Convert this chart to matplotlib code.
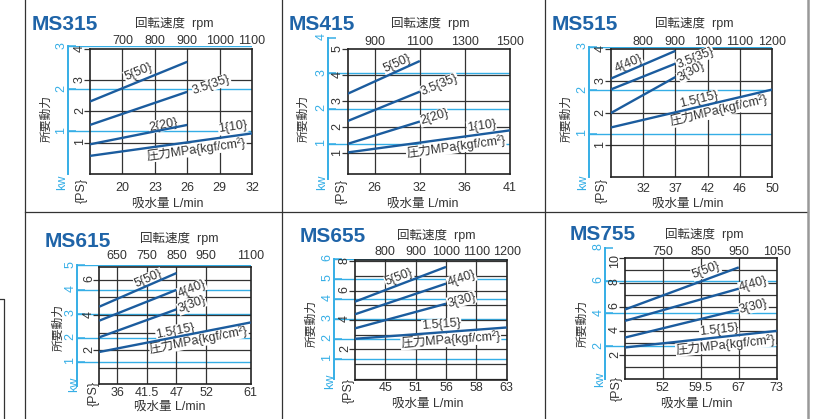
import numpy as np
import matplotlib
matplotlib.use('Agg')
import matplotlib.pyplot as plt
from matplotlib.lines import Line2D

plt.rcParams['font.family'] = ['Liberation Sans', 'Noto Sans CJK JP']

W, H = 818, 419
CURVE = '#1b5c9e'
KW_BLUE = '#35aee6'
TITLE_BLUE = '#1f64a8'
INK = '#333333'
PS_PER_KW = 1.36

# MS315
ms315_rpm = [700, 800, 900, 1000, 1100]
ms315_flow = ['20', '23', '26', '29', '32']
ms315_press = ['5{50}', '3.5{35}', '2{20}', '1{10}']
ms315_rpm0 = [600, 600, 600, 600]
ms315_rpm1 = [900, 900, 900, 1100]
ms315_ps0 = [2.32, 1.57, 0.95, 0.58]
ms315_ps1 = [3.59, 2.63, 1.57, 1.30]

# MS415
ms415_rpm = [900, 1100, 1300, 1500]
ms415_flow = ['26', '32', '36', '41']
ms415_press = ['5{50}', '3.5{35}', '2{20}', '1{10}']
ms415_rpm0 = [780, 780, 780, 780]
ms415_rpm1 = [1100, 1100, 1100, 1500]
ms415_ps0 = [3.29, 2.24, 1.36, 1.03]
ms415_ps1 = [4.55, 3.37, 2.22, 1.88]

# MS515
ms515_rpm = [800, 900, 1000, 1100, 1200]
ms515_flow = ['32', '37', '42', '46', '50']
ms515_press = ['4{40}', '3.5{35}', '3{30}', '1.5{15}']
ms515_rpm0 = [700, 700, 700, 700]
ms515_rpm1 = [900, 900, 900, 1200]
ms515_ps0 = [3.08, 2.74, 2.00, 1.55]
ms515_ps1 = [3.95, 3.55, 3.13, 2.74]

# MS615
ms615_rpm = [650, 750, 850, 950, 1100]
ms615_flow = ['36', '41.5', '47', '52', '61']
ms615_press = ['5{50}', '4{40}', '3{30}', '1.5{15}']
ms615_rpm0 = [590, 590, 590, 590]
ms615_rpm1 = [850, 850, 850, 1100]
ms615_ps0 = [4.47, 3.68, 2.74, 1.91]
ms615_ps1 = [6.37, 5.42, 4.32, 3.58]

# MS655
ms655_rpm = [800, 900, 1000, 1100, 1200]
ms655_flow = ['45', '51', '56', '58', '63']
ms655_press = ['5{50}', '4{40}', '3{30}', '1.5{15}']
ms655_rpm0 = [700, 700, 700, 700]
ms655_rpm1 = [1000, 1000, 1000, 1200]
ms655_ps0 = [5.25, 4.39, 3.43, 2.72]
ms655_ps1 = [7.62, 6.48, 5.11, 3.49]

# MS755
ms755_rpm = [750, 850, 950, 1050]
ms755_flow = ['52', '59.5', '67', '73']
ms755_press = ['5{50}', '4{40}', '3{30}', '1.5{15}']
ms755_rpm0 = [650, 650, 650, 650]
ms755_rpm1 = [950, 950, 950, 1050]
ms755_ps0 = [5.77, 4.83, 3.45, 2.63]
ms755_ps1 = [9.25, 7.49, 5.75, 4.00]

MPA_LABEL = '圧力MPa{kgf/cm²}'

panels = [
    dict(name='MS315', rpm=ms315_rpm, flow=ms315_flow, press=ms315_press,
         rpm0=ms315_rpm0, rpm1=ms315_rpm1, ps0=ms315_ps0, ps1=ms315_ps1,
         box=(90, 49, 252, 174), xlim=(600, 1100), ylim=(0, 4), blue_x=68,
         kw_ticks=[1, 2, 3], ps_ticks=[1, 2, 3, 4],
         lab_pos=[(749, 3.25), (975, 2.86), (826, 1.57), (1041, 1.49)], mpa_pos=(929, 0.79),
         title=(32, 30), rpm_title=(135, 26.7), xlabel=(168, 207), ylabel=(47, 118),
         kw=(62, 182), ps=(82, 190), top_pad=1.6, bot_pad=6.0),
    dict(name='MS415', rpm=ms415_rpm, flow=ms415_flow, press=ms415_press,
         rpm0=ms415_rpm0, rpm1=ms415_rpm1, ps0=ms415_ps0, ps1=ms415_ps1,
         box=(347.7, 49.3, 510, 174), xlim=(780, 1500), ylim=(0.2, 5.0), blue_x=328.3,
         kw_ticks=[1, 2, 3, 4], ps_ticks=[1, 2, 3, 4, 5],
         lab_pos=[(998, 4.46), (1187, 3.63), (1163, 2.38), (1373, 2.05)], mpa_pos=(1260, 1.26),
         title=(289, 30), rpm_title=(391, 26.7), xlabel=(423, 207), ylabel=(304, 118),
         kw=(322, 182), ps=(342, 191), top_pad=1.1, bot_pad=5.5),
    dict(name='MS515', rpm=ms515_rpm, flow=ms515_flow, press=ms515_press,
         rpm0=ms515_rpm0, rpm1=ms515_rpm1, ps0=ms515_ps0, ps1=ms515_ps1,
         box=(610.7, 49.3, 772.3, 177), xlim=(700, 1200), ylim=(0, 4), blue_x=589.3,
         kw_ticks=[1, 2, 3], ps_ticks=[1, 2, 3, 4],
         lab_pos=[(755, 3.56), (961, 3.72), (950, 3.30), (974, 2.42)], mpa_pos=(1033, 2.08),
         title=(552, 30), rpm_title=(655, 26.7), xlabel=(688, 207), ylabel=(567, 118),
         kw=(583, 182), ps=(602, 190), top_pad=1.1, bot_pad=4.1),
    dict(name='MS615', rpm=ms615_rpm, flow=ms615_flow, press=ms615_press,
         rpm0=ms615_rpm0, rpm1=ms615_rpm1, ps0=ms615_ps0, ps1=ms615_ps1,
         box=(99.3, 266.7, 250.7, 384), xlim=(590, 1100), ylim=(0.1, 6.73), blue_x=77.3,
         kw_ticks=[1, 2, 3, 4, 5], ps_ticks=[2, 4, 6],
         lab_pos=[(756, 6.04), (902, 5.47), (902, 4.57), (846, 3.09)], mpa_pos=(925, 2.58),
         title=(45, 246.7), rpm_title=(140, 242.3), xlabel=(170, 410), ylabel=(59, 327),
         kw=(74, 384), ps=(94, 393), top_pad=3.3, bot_pad=2.0),
    dict(name='MS655', rpm=ms655_rpm, flow=ms655_flow, press=ms655_press,
         rpm0=ms655_rpm0, rpm1=ms655_rpm1, ps0=ms655_ps0, ps1=ms655_ps1,
         box=(355, 260, 506.7, 380), xlim=(700, 1200), ylim=(-0.09, 8.09), blue_x=334.3,
         kw_ticks=[1, 2, 3, 4, 5, 6], ps_ticks=[2, 4, 6, 8],
         lab_pos=[(845, 6.89), (1051, 6.8), (1051, 5.36), (985, 3.66)], mpa_pos=(1016, 2.64),
         title=(300, 242.3), rpm_title=(397, 239), xlabel=(428, 407), ylabel=(312, 323),
         kw=(330, 381), ps=(349, 390), top_pad=1.6, bot_pad=1.7),
    dict(name='MS755', rpm=ms755_rpm, flow=ms755_flow, press=ms755_press,
         rpm0=ms755_rpm0, rpm1=ms755_rpm1, ps0=ms755_ps0, ps1=ms755_ps1,
         box=(625, 258.3, 776.7, 379.3), xlim=(650, 1050), ylim=(0, 10), blue_x=605.3,
         kw_ticks=[2, 4, 6, 8], ps_ticks=[2, 4, 6, 8, 10],
         lab_pos=[(864, 8.98), (988, 7.82), (988, 6.02), (898, 4.09)], mpa_pos=(915, 2.85),
         title=(570, 239.5), rpm_title=(665, 238.3), xlabel=(697, 407), ylabel=(583, 323),
         kw=(600, 379), ps=(617, 388), top_pad=0.4, bot_pad=2.2),
]


def rect(l, t, r, b):
    return [l / W, 1 - b / H, (r - l) / W, (b - t) / H]


def fx(x):
    return x / W


def fy(y):
    return 1 - y / H


fig = plt.figure(figsize=(W / 100, H / 100), dpi=100)
fig.patch.set_facecolor('white')

# page frame
frame = [
    ([25, 25], [0, 419]), ([282, 282], [0, 419]), ([545, 545], [0, 419]),
    ([25, 808], [212, 212]), ([0, 4, 4], [299, 299, 419]),
]
for xs, ys in frame:
    fig.add_artist(Line2D([fx(x) for x in xs], [fy(y) for y in ys], color='#333333', lw=0.9))
fig.add_artist(Line2D([fx(808), fx(808)], [fy(0), fy(419)], color='#999999', lw=1.8))


def draw_panel(p):
    L, T, R, B = p['box']
    lo, hi = p['ylim']
    scale = (B - T) / (hi - lo)
    y_kw0 = B + lo * scale
    kw_max = max(p['kw_ticks'])
    y_kwtop = y_kw0 - kw_max * PS_PER_KW * scale

    # kW axis (blue), underneath the main plot
    kax = fig.add_axes(rect(p['blue_x'], y_kwtop, R, y_kw0))
    kax.patch.set_alpha(0)
    kax.set_xlim(0, 1)
    kax.set_ylim(0, kw_max)
    for s in ['top', 'right', 'bottom']:
        kax.spines[s].set_visible(False)
    kax.spines['left'].set_color(KW_BLUE)
    kax.spines['left'].set_linewidth(1.4)
    kax.set_xticks([])
    kax.set_yticks(p['kw_ticks'])
    kax.tick_params(axis='y', direction='in', length=6, width=1.1, color=KW_BLUE,
                    labelcolor=KW_BLUE, labelrotation=90, pad=0.6, labelsize=9)
    for k in p['kw_ticks']:
        if k * PS_PER_KW <= hi + 0.1:
            kax.axhline(k, color=KW_BLUE, lw=1.0)

    # main PS axes
    ax = fig.add_axes(rect(L, T, R, B))
    ax.patch.set_alpha(0)
    ax.set_xlim(p['xlim'])
    ax.set_ylim(p['ylim'])
    for s in ax.spines.values():
        s.set_linewidth(1.2)
        s.set_color('#222222')
    for v in p['rpm']:
        if p['xlim'][0] < v < p['xlim'][1]:
            ax.axvline(v, color=INK, lw=0.9, zorder=1)
    for g in range(int(np.ceil(lo)), int(np.floor(hi)) + 1):
        if lo < g < hi:
            ax.axhline(g, color=INK, lw=0.9, zorder=1)

    ax.set_xticks(p['rpm'])
    ax.set_xticklabels(p['flow'])
    ax.tick_params(axis='x', length=0, pad=p['bot_pad'], labelsize=9, labelcolor=INK)
    ax.set_yticks(p['ps_ticks'])
    ax.tick_params(axis='y', length=4.5, width=0.9, color=INK, labelrotation=90,
                   pad=-1.5, labelsize=9, labelcolor=INK)

    sec = ax.secondary_xaxis('top')
    sec.set_xticks(p['rpm'])
    sec.set_xticklabels([str(r) for r in p['rpm']])
    sec.tick_params(length=0, pad=p['top_pad'], labelsize=9, labelcolor=INK)
    sec.spines['top'].set_visible(False)

    # power curves
    angles = []
    for lab, x0, x1, y0, y1, (tx, ty) in zip(p['press'], p['rpm0'], p['rpm1'],
                                            p['ps0'], p['ps1'], p['lab_pos']):
        ax.plot([x0, x1], [y0, y1], color=CURVE, lw=1.7, solid_capstyle='butt', zorder=4)
        d = ax.transData.transform([(x0, y0), (x1, y1)])
        ang = np.degrees(np.arctan2(d[1, 1] - d[0, 1], d[1, 0] - d[0, 0]))
        angles.append(ang)
        ax.text(tx, ty, lab, rotation=ang, rotation_mode='anchor', ha='center', va='center',
                fontsize=9, color=INK, zorder=3,
                bbox=dict(facecolor='white', edgecolor='none', pad=0.3))
    mx, my = p['mpa_pos']
    ax.text(mx, my, MPA_LABEL, rotation=angles[-1], rotation_mode='anchor', ha='center',
            va='center', fontsize=9, color=INK, zorder=3,
            bbox=dict(facecolor='white', edgecolor='none', pad=0.3))

    # panel texts
    fig.text(fx(p['title'][0]), fy(p['title'][1]), p['name'], fontsize=15, weight='bold',
             color=TITLE_BLUE, ha='left', va='baseline')
    fig.text(fx(p['rpm_title'][0]), fy(p['rpm_title'][1]), '回転速度  rpm', fontsize=9,
             color=INK, ha='left', va='baseline')
    fig.text(fx(p['xlabel'][0]), fy(p['xlabel'][1]), '吸水量 L/min', fontsize=9,
             color=INK, ha='center', va='baseline')
    fig.text(fx(p['ylabel'][0]), fy(p['ylabel'][1]), '所要動力', fontsize=8.5,
             color=INK, ha='center', va='center', rotation=90)
    fig.text(fx(p['kw'][0]), fy(p['kw'][1]), 'kw', fontsize=9,
             color=KW_BLUE, ha='center', va='center', rotation=90)
    fig.text(fx(p['ps'][0]), fy(p['ps'][1]), '{PS}', fontsize=9,
             color=INK, ha='center', va='center', rotation=90)


for p in panels:
    draw_panel(p)

fig.savefig('out.png', dpi=100, facecolor='white')
